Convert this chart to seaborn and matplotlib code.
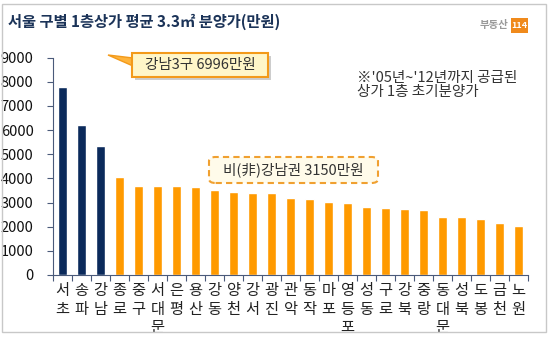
import matplotlib
matplotlib.use("Agg")
import matplotlib.pyplot as plt
import seaborn as sns
from matplotlib.patches import Rectangle, Polygon, FancyBboxPatch

districts = ["서초", "송파", "강남", "종로", "중구", "서대문", "은평", "용산", "강동",
             "양천", "강서", "광진", "관악", "동작", "마포", "영등포", "성동", "구로",
             "강북", "중랑", "동대문", "성북", "도봉", "금천", "노원"]
prices = [7790, 6210, 5340, 4070, 3705, 3705, 3700, 3665, 3515,
          3430, 3390, 3390, 3195, 3140, 3030, 2990, 2835, 2795,
          2750, 2710, 2395, 2395, 2325, 2160, 2045]
gangnam3 = ["서초", "송파", "강남"]
yticks = [0, 1000, 2000, 3000, 4000, 5000, 6000, 7000, 8000, 9000]

title = "서울 구별 1층상가 평균 3.3㎡ 분양가(만원)"
callout1 = "강남3구 6996만원"
callout2 = "비(非)강남권 3150만원"
note = "※'05년~'12년까지 공급된\n상가 1층 초기분양가"

NAVY = "#0b2a5b"
ORANGE = "#ff9a00"

sns.set_theme(style="white")
plt.rcParams["font.family"] = ["Noto Sans CJK KR", "DejaVu Sans"]

W, H = 550, 337
fig = plt.figure(figsize=(W / 100, H / 100), dpi=100)
fig.patch.set_facecolor("white")

def fx(px):
    return px / W

def fy(py):
    return 1 - py / H

ax = fig.add_axes([fx(53), fy(275), fx(528) - fx(53), fy(57.7) - fy(275)])
colors = [NAVY if d in gangnam3 else ORANGE for d in districts]
sns.barplot(x=districts, y=prices, hue=districts, palette=colors, legend=False,
            width=0.47, ax=ax, saturation=1)

ax.set_ylim(0, 9000)
ax.set_xlim(-0.5, len(districts) - 0.5)
ax.set_yticks(yticks)
ax.set_yticklabels([str(t) for t in yticks], fontsize=10.5, color="#111111")
ax.set_xticks(range(len(districts)))
ax.set_xticklabels(["\n".join(d) for d in districts], fontsize=11,
                   color="#222222", linespacing=1.12, va="top")
ax.set_xticks([i - 0.5 for i in range(len(districts) + 1)], minor=True)
ax.tick_params(axis="x", which="major", length=0, pad=5)
ax.tick_params(axis="x", which="minor", length=4, width=0.8, color="#4a5a7a", direction="out")
ax.tick_params(axis="y", length=4, width=0.8, color="#4a5a7a", direction="out", pad=10)
ax.yaxis.set_ticks_position("left")
ax.xaxis.set_ticks_position("bottom")
ax.set_xlabel("")
ax.set_ylabel("")
for s in ["top", "right"]:
    ax.spines[s].set_visible(False)
for s in ["left", "bottom"]:
    ax.spines[s].set_color("#4a5a7a")
    ax.spines[s].set_linewidth(0.8)
ax.grid(False)

# outer frame
fig.patches.append(Rectangle((fx(2), fy(332)), fx(546) - fx(2), fy(4) - fy(332),
                             transform=fig.transFigure, fill=False,
                             edgecolor="#c8c8c8", linewidth=1.0))

# title
fig.text(fx(8), fy(22), title, fontsize=11, color="#1b3358", fontweight="bold",
         va="center", ha="left")

# logo
fig.text(fx(508), fy(25), "부동산", fontsize=7.5, color="#9a9a9a", fontweight="bold",
         va="center", ha="right")
fig.patches.append(Rectangle((fx(511), fy(33)), fx(8.5) * 2, fy(18) - fy(33),
                             transform=fig.transFigure, facecolor="#f08a1c",
                             edgecolor="none"))
fig.text(fx(519.5), fy(25.5), "114", fontsize=6.5, color="white", fontweight="bold",
         va="center", ha="center")

# callout 1 (with pointer and shadow)
bx0, by0, bx1, by1 = 132, 53, 268, 77
fig.patches.append(Rectangle((fx(bx0 + 3), fy(by1 + 3)), fx(bx1 - bx0), fy(by0) - fy(by1),
                             transform=fig.transFigure, facecolor="#b9b9b9",
                             edgecolor="none", alpha=0.7))
fig.patches.append(Polygon([(fx(108), fy(55)), (fx(bx0 + 1), fy(58)), (fx(bx0 + 1), fy(66))],
                           closed=True, transform=fig.transFigure,
                           facecolor="#ffb43c", edgecolor="#f39a1a", linewidth=1))
fig.patches.append(Rectangle((fx(bx0), fy(by1)), fx(bx1 - bx0), fy(by0) - fy(by1),
                             transform=fig.transFigure, facecolor="#fff6c8",
                             edgecolor="#f39a1a", linewidth=1.5))
fig.text(fx((bx0 + bx1) / 2), fy((by0 + by1) / 2), callout1, fontsize=10.5,
         color="#333333", ha="center", va="center")

# callout 2 (dashed, rounded)
cx0, cy0, cx1, cy1 = 209, 157, 378, 183
fig.patches.append(FancyBboxPatch((fx(cx0), fy(cy1)), fx(cx1 - cx0), fy(cy0) - fy(cy1),
                                  boxstyle="round,pad=0,rounding_size=0.012",
                                  transform=fig.transFigure, facecolor="#fffbea",
                                  edgecolor="#f0a030", linewidth=1.5, linestyle=(0, (3, 2))))
fig.text(fx((cx0 + cx1) / 2), fy((cy0 + cy1) / 2), callout2, fontsize=10.5,
         color="#333333", ha="center", va="center")

# note
fig.text(fx(357), fy(85), note, fontsize=10.5, color="#333333", ha="left",
         va="center", linespacing=1.05)

fig.savefig("out.png", dpi=100)
